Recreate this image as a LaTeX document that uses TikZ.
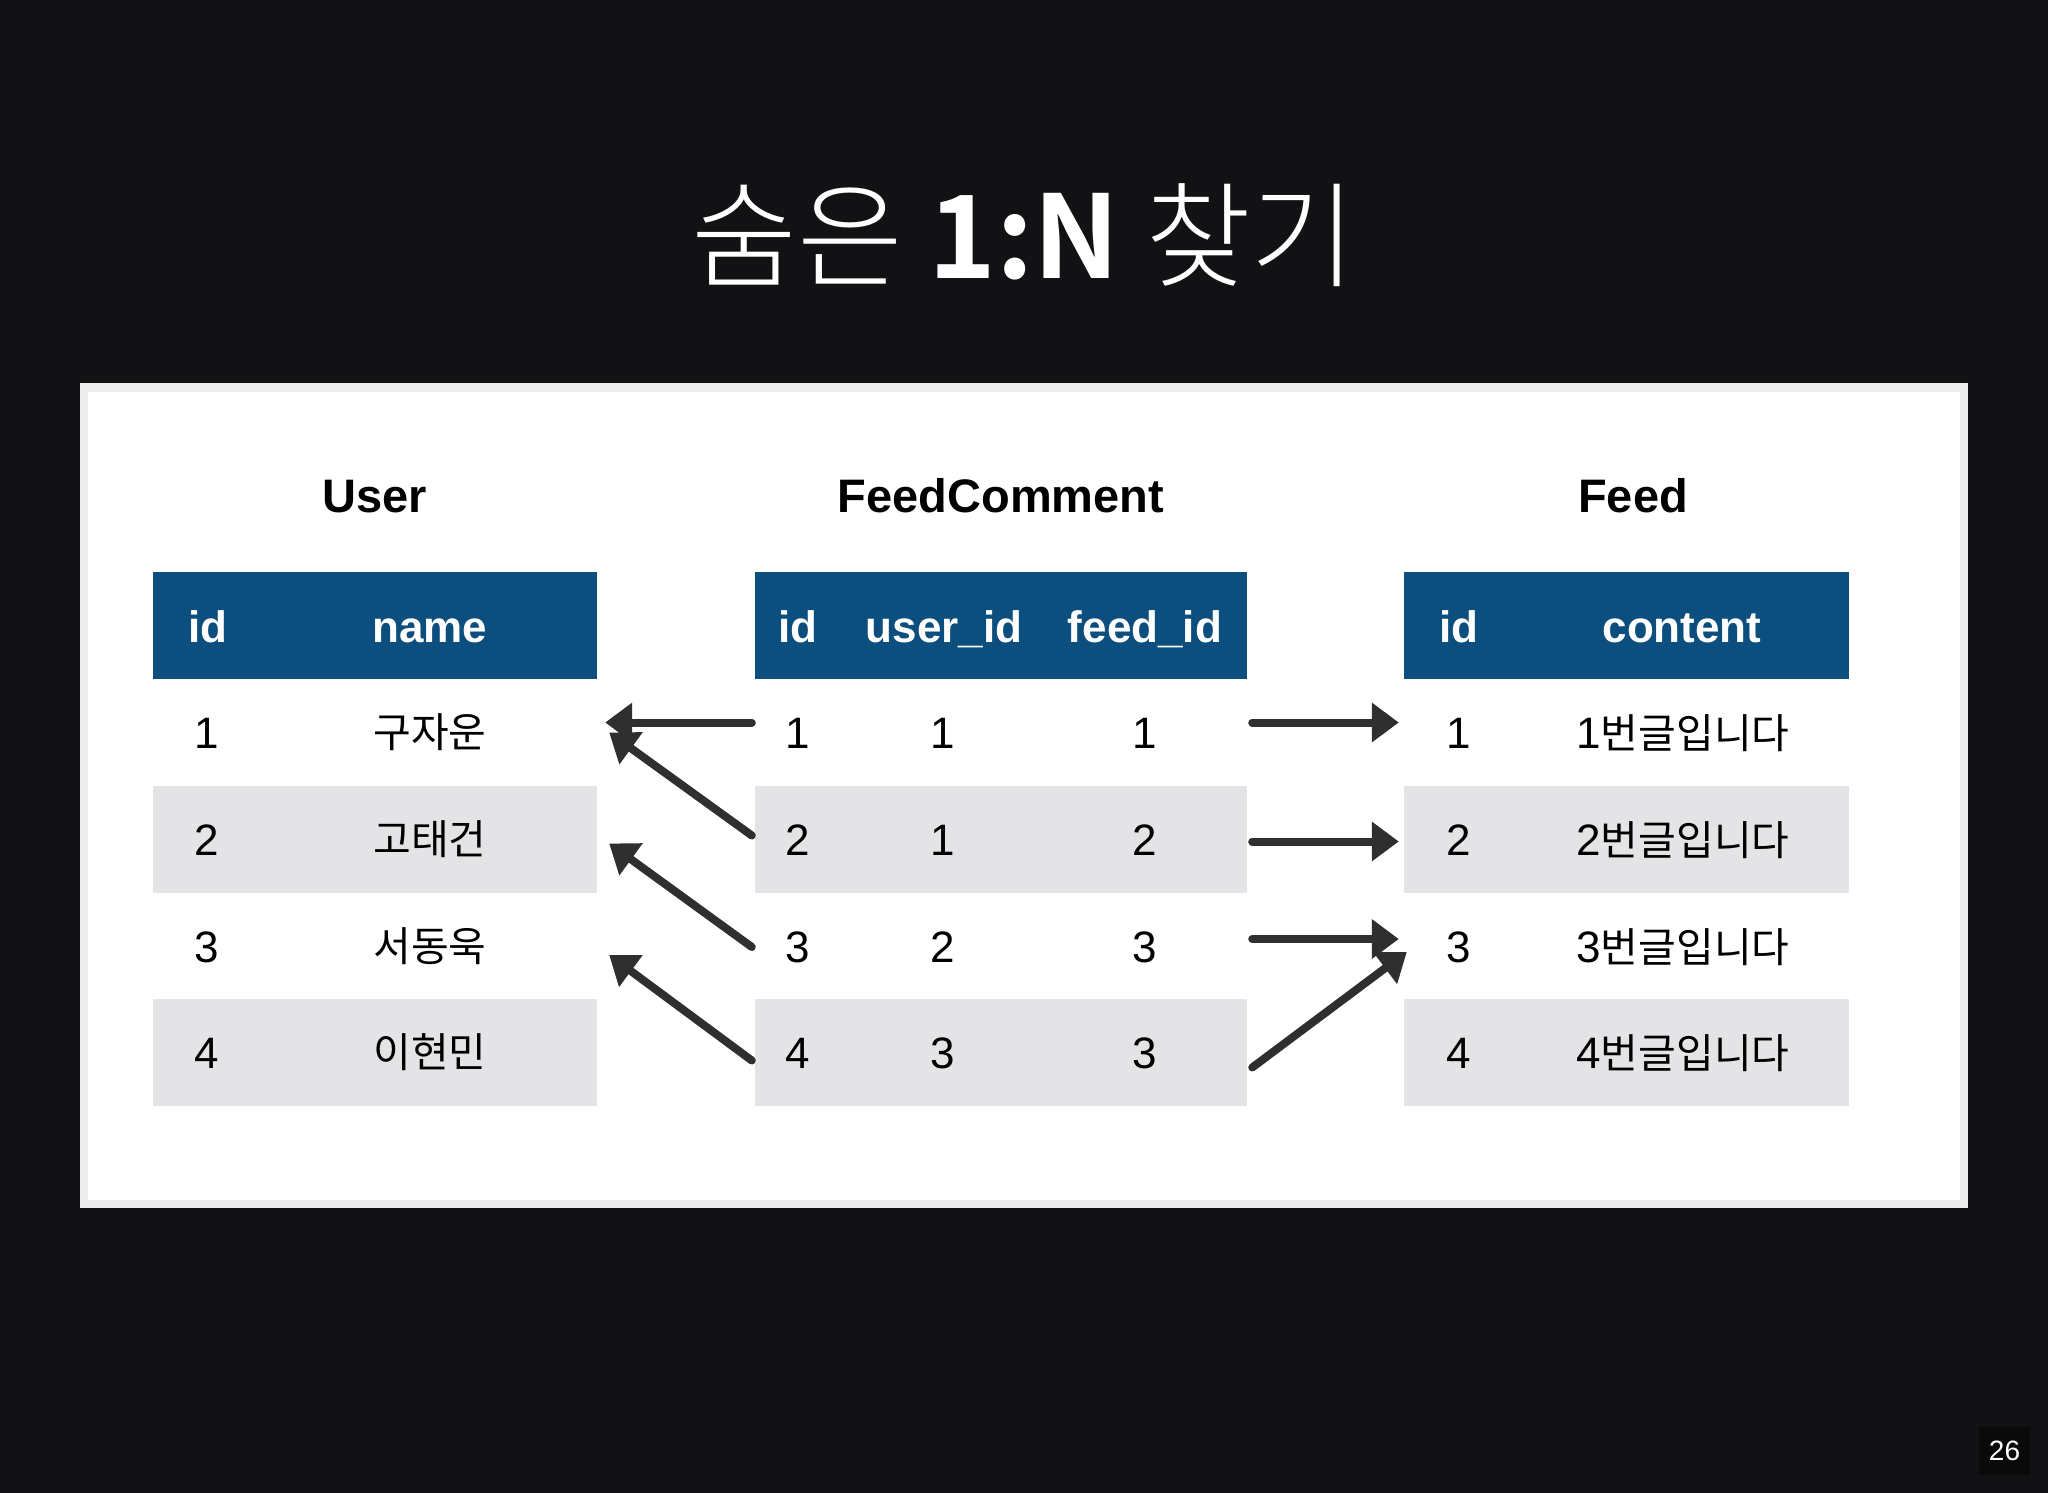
\documentclass[tikz,border=0pt]{standalone}
\usepackage{fontspec}
\setmainfont{Liberation Sans}
\newfontfamily\kr{Noto Sans CJK KR}
\newfontfamily\krl{Noto Sans CJK KR}[UprightFont=* Light, BoldFont=* Bold]
\usetikzlibrary{arrows.meta,calc}
\definecolor{bgdark}{HTML}{121214}
\definecolor{hdrblue}{HTML}{0C4F7E}
\definecolor{rowgray}{HTML}{E4E4E7}
\definecolor{panelrim}{HTML}{ECECEC}
\definecolor{arrowgray}{HTML}{2F2F2F}
\definecolor{pagebox}{HTML}{0A0A0B}
\tikzset{
  hdr/.style={fill=hdrblue, minimum height=107pt, inner sep=0pt, draw=none},
  rowg/.style={fill=rowgray, minimum height=107pt, inner sep=0pt, draw=none},
  roww/.style={fill=white, minimum height=107pt, inner sep=0pt, draw=none},
  cell/.style={font=\fontsize{44}{50}\selectfont, text=black, inner sep=0pt, anchor=base},
  kcell/.style={font=\fontsize{41}{48}\selectfont\kr, text=black, inner sep=0pt, anchor=base},
  hcell/.style={font=\fontsize{44}{50}\selectfont\bfseries, text=white, inner sep=0pt, anchor=base},
  ttl/.style={font=\fontsize{47}{54}\selectfont\bfseries, text=black, inner sep=0pt, anchor=base},
  conn/.style={draw=arrowgray, line width=8pt, line cap=round,
    -{Triangle[length=27pt,width=38pt]}},
}
\begin{document}
\begin{tikzpicture}[x=1pt,y=-1pt]
% background
\fill[bgdark] (0,0) rectangle (2048,1493);
\useasboundingbox (0,0) rectangle (2048,1493);
% title
\node[text=white, inner sep=0pt, font=\fontsize{115}{130}\selectfont\krl] (title) at (1024,235) {숨은 {\bfseries 1:N} 찾기};
% panel
\fill[panelrim] (80,383) rectangle (1968,1208);
\fill[white] (88,392) rectangle (1960,1200);
% table titles
\node[ttl] (tu) at (375,512) {User};
\node[ttl] (tc) at (1001,512) {FeedComment};
\node[ttl] (tf) at (1633,512) {Feed};
% User table
\node[hdr, minimum width=444pt] (u0) at (375,625.5) {};
\node[hcell] (u0a) at (208,642) {id};
\node[hcell] (u0b) at (430,642) {name};
\foreach \i/\y/\nm/\st in {1/732.5/구자운/roww, 2/839.5/고태건/rowg, 3/946/서동욱/roww, 4/1052.5/이현민/rowg}{
  \node[\st, minimum width=444pt] (u\i) at (375,\y) {};
  \node[cell] (u\i a) at (207,\y+16) {\i};
  \node[kcell] (u\i b) at (430,\y+15) {\nm};
}
% FeedComment table
\node[hdr, minimum width=492pt] (c0) at (1001,625.5) {};
\node[hcell] (c0a) at (798,642) {id};
\node[hcell] (c0b) at (944,642) {user\_id};
\node[hcell] (c0c) at (1145,642) {feed\_id};
\foreach \i/\y/\p/\q/\st in {1/732.5/1/1/roww, 2/839.5/1/2/rowg, 3/946/2/3/roww, 4/1052.5/3/3/rowg}{
  \node[\st, minimum width=492pt] (c\i) at (1001,\y) {};
  \node[cell] (c\i a) at (798,\y+16) {\i};
  \node[cell] (c\i b) at (943,\y+16) {\p};
  \node[cell] (c\i c) at (1145,\y+16) {\q};
}
% Feed table
\node[hdr, minimum width=445pt] (f0) at (1626.5,625.5) {};
\node[hcell] (f0a) at (1459,642) {id};
\node[hcell] (f0b) at (1682,642) {content};
\foreach \i/\y/\st in {1/732.5/roww, 2/839.5/rowg, 3/946/roww, 4/1052.5/rowg}{
  \node[\st, minimum width=445pt] (f\i) at (1626.5,\y) {};
  \node[cell] (f\i a) at (1459,\y+16) {\i};
  \node[inner sep=0pt, anchor=base] (f\i b) at (1683,\y+16) {{\fontsize{44}{50}\selectfont\i}{\fontsize{41}{48}\selectfont\kr 번글입니다}};
}
% connectors FeedComment -> User
\draw[conn] ($(c1.west)+(-3,-10)$) -- ($(u1.east)+(8,-10)$);
\draw[conn] ($(c2.west)+(-3,-4)$) -- ($(u1.east)+(12,0)$);
\draw[conn] ($(c3.west)+(-3,1)$) -- ($(u2.east)+(12,4)$);
\draw[conn] ($(c4.west)+(-3,8)$) -- ($(u3.east)+(12,9)$);
% connectors FeedComment -> Feed
\draw[conn] ($(c1.east)+(5,-10)$) -- ($(f1.west)+(-5,-10)$);
\draw[conn] ($(c2.east)+(5,2)$) -- ($(f2.west)+(-5,2)$);
\draw[conn] ($(c3.east)+(5,-7)$) -- ($(f3.west)+(-5,-7)$);
\draw[conn] ($(c4.east)+(5,15)$) -- ($(f3.west)+(3,6)$);
% page number
\node[fill=pagebox, minimum width=51pt, minimum height=48pt, inner sep=0pt,
  text=white, font=\fontsize{28}{32}\selectfont] (pg) at (2004.5,1451) {26};
\end{tikzpicture}
\end{document}
